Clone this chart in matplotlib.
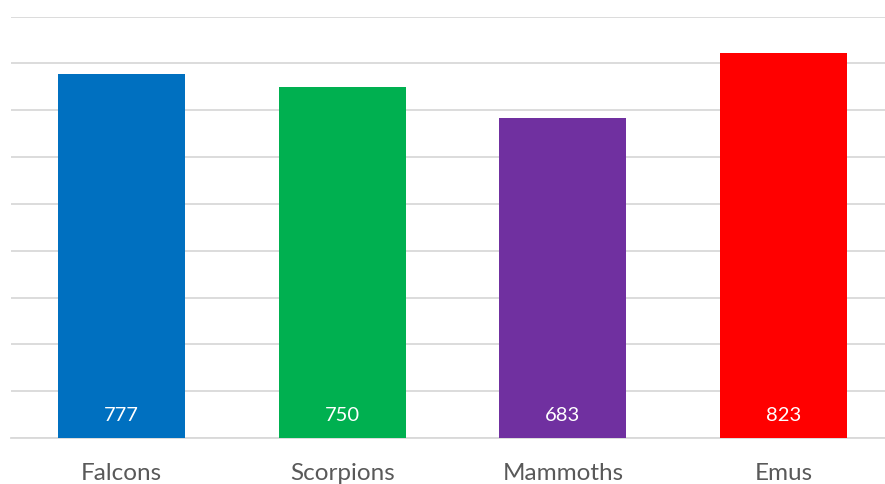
import matplotlib
matplotlib.use("Agg")
import matplotlib.pyplot as plt

categories = ["Falcons", "Scorpions", "Mammoths", "Emus"]
values = [777, 750, 683, 823]
colors = ["#0070C0", "#00B050", "#7030A0", "#FF0000"]
yticks = list(range(0, 1000, 100))

W, H = 885, 484
fig = plt.figure(figsize=(W / 100, H / 100), dpi=100)
left, right = 11, 894
bottom, top = 438, 16.5
ax = fig.add_axes([left / W, (H - bottom) / H, (right - left) / W, (bottom - top) / H])

x = list(range(len(categories)))
bars = ax.bar(x, values, width=0.575, color=colors, zorder=3)

ax.set_xlim(-0.5, len(categories) - 0.5)
ax.set_ylim(0, 900)
ax.set_yticks(yticks)
ax.yaxis.grid(True, color="#D9D9D9", linewidth=1.3, zorder=0)
ax.set_axisbelow(True)
for s in ["top", "right", "left"]:
    ax.spines[s].set_visible(False)
ax.spines["bottom"].set_color("#D9D9D9")
ax.spines["bottom"].set_linewidth(1.3)
ax.tick_params(axis="y", length=0, labelleft=False)
ax.tick_params(axis="x", length=0)
ax.set_xticks(x)
ax.set_xticklabels(categories, fontsize=17.5, color="#595959", family=["Lato", "DejaVu Sans"])
ax.tick_params(axis="x", pad=18)

for xi, v in zip(x, values):
    ax.annotate(str(v), xy=(xi, 0), xytext=(0, 16.5), textcoords="offset points",
                ha="center", va="center", color="white", fontsize=14.5,
                family=["Lato", "DejaVu Sans"], zorder=4)

fig.savefig("out.png", dpi=100)
